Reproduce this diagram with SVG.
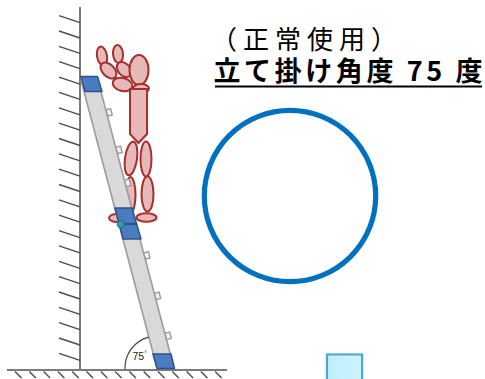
<svg xmlns="http://www.w3.org/2000/svg" width="485" height="379" viewBox="0 0 485 379">
  <style>
    .hatch { stroke: #4d4d4d; stroke-width: 1.4; fill: none; }
    .base { stroke: #7a7a7a; stroke-width: 2; fill: none; }
    .body { fill: #e6b9b8; stroke: #a5302e; stroke-width: 2; }
    .rail { fill: #d9d9d9; stroke: #9c9c9c; stroke-width: 1.6; }
    .tab { fill: #f2f2f2; stroke: #9c9c9c; stroke-width: 1.4; }
    .pad { fill: #4a7dbf; stroke: #2f528f; stroke-width: 1.5; stroke-linejoin: round; }
    .title { font-family: "Noto Sans CJK JP", "Noto Sans", sans-serif; fill: #000; }
  </style>
  <defs>
    <linearGradient id="boxFill" x1="0" y1="0" x2="1" y2="0">
      <stop offset="0" stop-color="#bdeeff"/>
      <stop offset="1" stop-color="#cff4ff"/>
    </linearGradient>
    <filter id="soft" x="-30%" y="-30%" width="160%" height="160%">
      <feGaussianBlur stdDeviation="1.6"/>
    </filter>
  </defs>

  <!-- wall and floor -->
  <g id="wall">
    <line class="base" x1="80" y1="7" x2="80" y2="371"/>
    <g class="hatch">
      <line x1="59" y1="15.7" x2="80" y2="22.7"/>
      <line x1="59" y1="31.0" x2="80" y2="38.0"/>
      <line x1="59" y1="46.4" x2="80" y2="53.4"/>
      <line x1="59" y1="61.7" x2="80" y2="68.7"/>
      <line x1="59" y1="77.1" x2="80" y2="84.1"/>
      <line x1="59" y1="92.4" x2="80" y2="99.4"/>
      <line x1="59" y1="107.8" x2="80" y2="114.8"/>
      <line x1="59" y1="123.1" x2="80" y2="130.1"/>
      <line x1="59" y1="138.5" x2="80" y2="145.5"/>
      <line x1="59" y1="153.8" x2="80" y2="160.8"/>
      <line x1="59" y1="169.2" x2="80" y2="176.2"/>
      <line x1="59" y1="184.5" x2="80" y2="191.5"/>
      <line x1="59" y1="199.9" x2="80" y2="206.9"/>
      <line x1="59" y1="215.2" x2="80" y2="222.2"/>
      <line x1="59" y1="230.6" x2="80" y2="237.6"/>
      <line x1="59" y1="245.9" x2="80" y2="252.9"/>
      <line x1="59" y1="261.3" x2="80" y2="268.3"/>
      <line x1="59" y1="276.6" x2="80" y2="283.6"/>
      <line x1="59" y1="292.0" x2="80" y2="299.0"/>
      <line x1="59" y1="307.3" x2="80" y2="314.3"/>
      <line x1="59" y1="322.7" x2="80" y2="329.7"/>
      <line x1="59" y1="338.0" x2="80" y2="345.0"/>
      <line x1="59" y1="353.4" x2="80" y2="360.4"/>
    </g>
  </g>
  <g id="floor">
    <line class="base" x1="7" y1="370" x2="227" y2="370"/>
    <g class="hatch">
      <line x1="15" y1="371.5" x2="21.5" y2="378"/>
      <line x1="29.3" y1="371.5" x2="35.8" y2="378"/>
      <line x1="43.6" y1="371.5" x2="50.1" y2="378"/>
      <line x1="57.9" y1="371.5" x2="64.4" y2="378"/>
      <line x1="72.2" y1="371.5" x2="78.7" y2="378"/>
      <line x1="86.5" y1="371.5" x2="93" y2="378"/>
      <line x1="100.8" y1="371.5" x2="107.3" y2="378"/>
      <line x1="115.1" y1="371.5" x2="121.6" y2="378"/>
      <line x1="129.4" y1="371.5" x2="135.9" y2="378"/>
      <line x1="143.7" y1="371.5" x2="150.2" y2="378"/>
      <line x1="158" y1="371.5" x2="164.5" y2="378"/>
      <line x1="172.3" y1="371.5" x2="178.8" y2="378"/>
      <line x1="186.6" y1="371.5" x2="193.1" y2="378"/>
      <line x1="200.9" y1="371.5" x2="207.4" y2="378"/>
      <line x1="215.2" y1="371.5" x2="221.7" y2="378"/>
    </g>
  </g>

  <!-- worker standing on the ladder -->
  <g id="worker">
    <ellipse class="body" cx="131" cy="158.5" rx="6" ry="17" transform="rotate(8 131 158.5)"/>
    <ellipse class="body" cx="130.5" cy="195" rx="5" ry="18"/>
    <ellipse class="body" cx="117" cy="218" rx="8" ry="4"/>
    <ellipse class="body" cx="146" cy="159" rx="5.5" ry="17.5"/>
    <ellipse class="body" cx="147.5" cy="194" rx="6" ry="17.5"/>
    <ellipse class="body" cx="146.5" cy="217.5" rx="10" ry="4.3"/>
    <ellipse class="body" cx="102" cy="56" rx="5" ry="9.5" transform="rotate(-10 102 56)"/>
    <ellipse class="body" cx="118" cy="54" rx="5" ry="9" transform="rotate(-5 118 54)"/>
    <ellipse class="body" cx="108.5" cy="70.5" rx="9.5" ry="6" transform="rotate(45 108.5 70.5)"/>
    <ellipse class="body" cx="124" cy="69.5" rx="8.5" ry="6" transform="rotate(50 124 69.5)"/>
    <ellipse class="body" cx="122.5" cy="84.5" rx="10" ry="6.5" transform="rotate(15 122.5 84.5)"/>
    <ellipse class="body" cx="139" cy="70" rx="9.5" ry="15"/>
    <ellipse class="body" cx="141" cy="88.5" rx="8" ry="4.5"/>
    <path class="body" d="M130,89 L147,89 L147,134 L138.5,143 L130,134 Z"/>
  </g>

  <!-- ladder -->
  <g id="ladder">
    <g transform="translate(165.5 368) rotate(-14.8)">
      <rect class="tab" x="8.2" y="-264.8" width="5" height="6.5"/>
      <rect class="tab" x="8.2" y="-226" width="5" height="6.5"/>
      <rect class="tab" x="8.2" y="-191.9" width="5" height="6.5"/>
      <rect class="tab" x="8.2" y="-116.9" width="5" height="6.5"/>
      <rect class="tab" x="8.2" y="-75" width="5" height="6.5"/>
      <rect class="tab" x="8.2" y="-33.7" width="5" height="6.5"/>
      <rect class="rail" x="-8.2" y="-298" width="16.4" height="294"/>
    </g>
    <polygon class="pad" points="81,76.5 97.5,76.5 102,91.5 85,91.5"/>
    <polygon class="pad" points="115,208 132,208 141,239 123,239"/>
    <line x1="120" y1="224" x2="136.5" y2="224" stroke="#2f528f" stroke-width="2.2"/>
    <circle cx="120.7" cy="224.3" r="3.5" fill="#2aa1aa" stroke="#17767d" stroke-width="1"/>
    <polygon class="pad" points="153,354 171,354 174.5,368.5 157,368.5"/>
  </g>

  <!-- angle mark -->
  <g id="angle">
    <path d="M125,369 A32,32 0 0 1 148.7,337.1" fill="none" stroke="#404040" stroke-width="1.2"/>
    <text x="132.5" y="360" font-family="Liberation Sans, Arial, sans-serif" font-size="10.5" fill="#222">75<tspan font-size="6.5" dy="-4">°</tspan></text>
  </g>

  <!-- caption -->
  <g id="caption">
    <text class="title" x="211" y="48.5" font-size="26" textLength="186" lengthAdjust="spacing">（正常使用）</text>
    <text class="title" x="213.5" y="80.5" font-size="27" font-weight="bold" textLength="269" lengthAdjust="spacing">立て掛け角度 75 度</text>
    <line x1="215" y1="86.5" x2="482" y2="86.5" stroke="#000" stroke-width="2"/>
  </g>

  <!-- ring -->
  <g id="ring">
    <circle cx="290" cy="196" r="85.7" fill="none" stroke="#0070c0" stroke-width="5.2"/>
  </g>

  <!-- small box -->
  <g id="box">
    <rect x="326" y="354" width="37" height="32" fill="#000" opacity="0.2" filter="url(#soft)"/>
    <rect x="327" y="354.5" width="35" height="30" fill="url(#boxFill)" stroke="#4aa9c9" stroke-width="2"/>
  </g>
</svg>
